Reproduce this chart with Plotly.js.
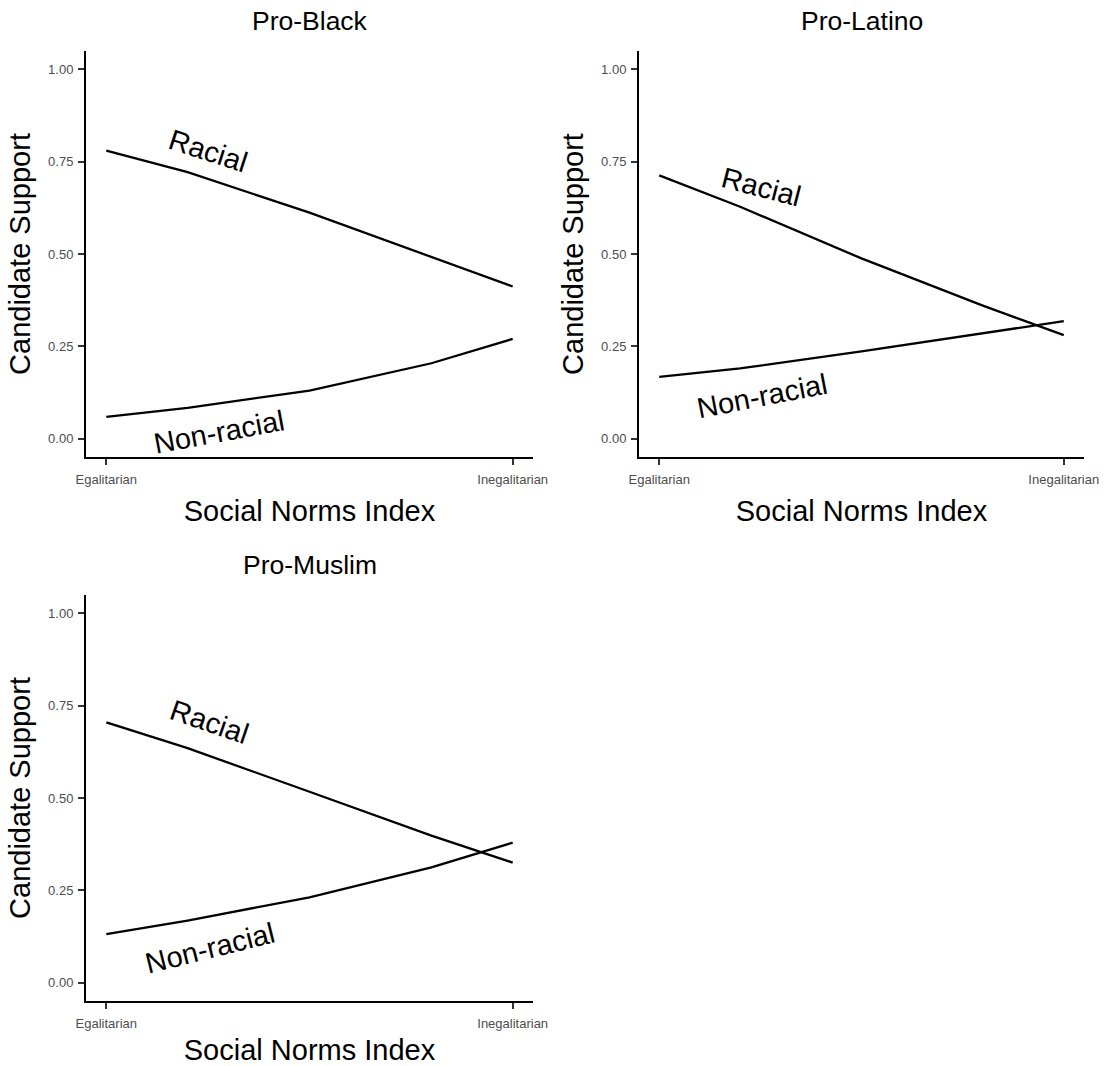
<!DOCTYPE html>
<html>
<head>
<meta charset="utf-8">
<script src="https://cdn.plot.ly/plotly-3.0.1.min.js"></script>
<style>html,body{margin:0;padding:0;background:#fff;}#chart{width:1104px;height:1066px;}</style>
</head>
<body>
<div id="chart"></div>
<script>
// Social Norms Index positions (0 = Egalitarian, 1 = Inegalitarian)
const normsX = [0, 0.2, 0.5, 0.8, 1];
const tickVals = [0, 1];
const tickLabels = ["Egalitarian", "Inegalitarian"];
const yTicks = [0, 0.25, 0.5, 0.75, 1];
const yTickLabels = ["0.00", "0.25", "0.50", "0.75", "1.00"];

const panels = ["Pro-Black", "Pro-Latino", "Pro-Muslim"];

// Candidate support, racial vs non-racial appeal
const blackRacial    = [0.780, 0.722, 0.612, 0.493, 0.412];
const blackNonRacial = [0.059, 0.083, 0.130, 0.204, 0.270];
const latinoRacial    = [0.713, 0.628, 0.488, 0.360, 0.280];
const latinoNonRacial = [0.167, 0.190, 0.236, 0.286, 0.318];
const muslimRacial    = [0.705, 0.635, 0.517, 0.398, 0.325];
const muslimNonRacial = [0.131, 0.168, 0.231, 0.312, 0.379];

// label placement (x, y, angle) per panel
const racialLabelPos    = [[0.252, 0.780, 18], [0.253, 0.681, 14.5], [0.255, 0.705, 19]];
const nonRacialLabelPos = [[0.277, 0.017, -10.5], [0.254, 0.116, -11], [0.256, 0.093, -14]];

const seriesRacial = [blackRacial, latinoRacial, muslimRacial];
const seriesNon = [blackNonRacial, latinoNonRacial, muslimNonRacial];

const FONT = "Liberation Sans, Arial, sans-serif";
const W = 1104, H = 1066;
// plot area boxes in px: [left, right, top, bottom]
const boxes = [[86, 533, 51, 457], [639, 1084, 51, 457], [86, 533, 595, 1001]];

const data = [];
const layout = {
  width: W, height: H,
  margin: {l: 0, r: 0, t: 0, b: 0},
  paper_bgcolor: "#ffffff", plot_bgcolor: "#ffffff",
  showlegend: false,
  font: {family: FONT, color: "#000"},
  annotations: []
};

panels.forEach((name, i) => {
  const sfx = i === 0 ? "" : String(i + 1);
  const xa = "x" + sfx, ya = "y" + sfx;
  const b = boxes[i];
  data.push({x: normsX, y: seriesRacial[i], xaxis: xa, yaxis: ya, mode: "lines", type: "scatter",
             line: {color: "#000", width: 2.3}, hoverinfo: "skip", name: "Racial"});
  data.push({x: normsX, y: seriesNon[i], xaxis: xa, yaxis: ya, mode: "lines", type: "scatter",
             line: {color: "#000", width: 2.3}, hoverinfo: "skip", name: "Non-racial"});
  layout["xaxis" + sfx] = {
    domain: [b[0] / W, b[1] / W], anchor: ya, range: [-0.05, 1.05],
    showgrid: false, zeroline: false, showline: true, linecolor: "#000", linewidth: 2,
    ticks: "outside", ticklen: 6, tickwidth: 2, tickcolor: "#333",
    tickvals: tickVals, ticktext: tickLabels, ticklabelstandoff: 3,
    tickfont: {family: FONT, size: 13, color: "#4d4d4d"},
    title: {text: "Social Norms Index", font: {family: FONT, size: 29, color: "#000"}, standoff: 15},
    automargin: false, fixedrange: true
  };
  layout["yaxis" + sfx] = {
    domain: [1 - b[3] / H, 1 - b[2] / H], anchor: xa, range: [-0.05, 1.05],
    showgrid: false, zeroline: false, showline: true, linecolor: "#000", linewidth: 2,
    ticks: "outside", ticklen: 6, tickwidth: 2, tickcolor: "#333",
    tickvals: yTicks, ticktext: yTickLabels, ticklabelstandoff: 2,
    tickfont: {family: FONT, size: 13, color: "#4d4d4d"},
    title: {text: "Candidate Support", font: {family: FONT, size: 29, color: "#000"}, standoff: 9},
    automargin: false, fixedrange: true
  };
  layout.annotations.push({
    text: name, xref: "paper", yref: "paper",
    x: (b[0] + b[1]) / 2 / W, y: 1 - (b[2] - 30) / H, xanchor: "center", yanchor: "middle",
    showarrow: false, font: {family: FONT, size: 26.5, color: "#000"}
  });
  const rl = racialLabelPos[i], nl = nonRacialLabelPos[i];
  layout.annotations.push({text: "Racial", xref: xa, yref: ya, x: rl[0], y: rl[1], textangle: rl[2],
    xanchor: "center", yanchor: "middle", showarrow: false, font: {family: FONT, size: 29, color: "#000"}});
  layout.annotations.push({text: "Non-racial", xref: xa, yref: ya, x: nl[0], y: nl[1], textangle: nl[2],
    xanchor: "center", yanchor: "middle", showarrow: false, font: {family: FONT, size: 29, color: "#000"}});
});

Plotly.newPlot("chart", data, layout, {displayModeBar: false, staticPlot: true});
</script>
</body>
</html>
